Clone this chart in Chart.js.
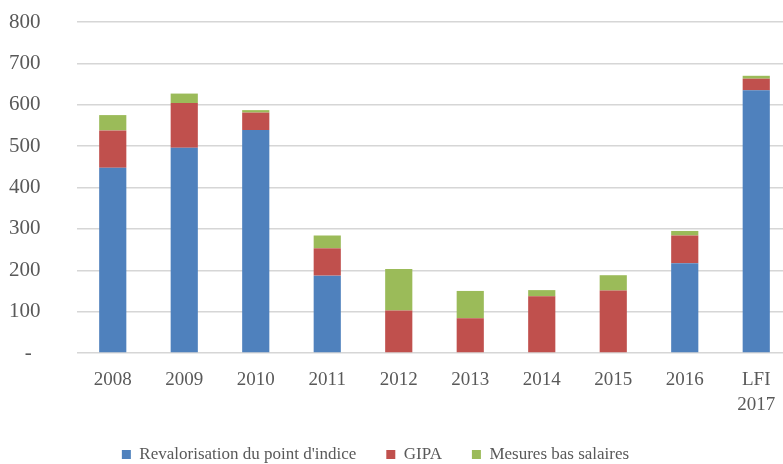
<!DOCTYPE html>
<html>
<head>
<meta charset="utf-8">
<script src="https://cdn.jsdelivr.net/npm/chart.js@4.4.1/dist/chart.umd.min.js"></script>
<style>
html,body{margin:0;padding:0;background:#fff;overflow:hidden;}
#wrap{position:relative;width:792px;height:464px;}
</style>
</head>
<body>
<div id="wrap"><canvas id="c" width="792" height="464"></canvas></div>
<script>
const categories = ['2008','2009','2010','2011','2012','2013','2014','2015','2016',['LFI','2017']];
const seriesNames = ["Revalorisation du point d'indice", 'GIPA', 'Mesures bas salaires'];
const revalorisation = [448, 496, 539, 187, 0, 0, 0, 0, 217, 635];
const gipa = [90, 108, 42, 66, 103, 84, 137, 151, 67, 28];
const basSalaires = [37, 23, 6, 31, 100, 66, 15, 37, 11, 7];
const yTicks = [0, 100, 200, 300, 400, 500, 600, 700, 800];

const FONT = "'Liberation Serif', 'DejaVu Serif', serif";
const TXT = '#595959';

const legendShift = {
  id: 'legendShift',
  afterLayout(chart) {
    const lg = chart.legend;
    if (lg) { lg.left -= 25; lg.right -= 25; }
  }
};

new Chart(document.getElementById('c'), {
  type: 'bar',
  data: {
    labels: categories,
    datasets: [
      {label: seriesNames[0], data: revalorisation, backgroundColor: '#4F81BD'},
      {label: seriesNames[1], data: gipa, backgroundColor: '#C0504D'},
      {label: seriesNames[2], data: basSalaires, backgroundColor: '#9BBB59'}
    ]
  },
  plugins: [legendShift],
  options: {
    responsive: false,
    animation: false,
    events: [],
    layout: {padding: {top: 22, left: 9, right: 0, bottom: 0}},
    datasets: {bar: {categoryPercentage: 1, barPercentage: 0.38, borderWidth: 0}},
    scales: {
      x: {
        stacked: true,
        grid: {display: false, drawTicks: false},
        border: {display: false},
        ticks: {color: TXT, font: {family: FONT, size: 19, lineHeight: 1.3}, padding: 15, maxRotation: 0, autoSkip: false},
        afterFit(scale) { scale.height = 63; }
      },
      y: {
        stacked: true,
        min: 0, max: 800,
        afterBuildTicks(scale) { scale.ticks = yTicks.map(v => ({value: v})); },
        grid: {color: '#d6d6d6', lineWidth: 1.5, drawTicks: false},
        border: {display: false},
        ticks: {
          color: TXT, font: {family: FONT, size: 21}, padding: 0, crossAlign: 'far',
          callback: v => v === 0 ? '   -' : String(v)
        },
        afterFit(scale) { scale.width = 68; }
      }
    },
    plugins: {
      tooltip: {enabled: false},
      legend: {
        position: 'bottom',
        maxHeight: 48,
        labels: {
          color: TXT, font: {family: FONT, size: 17},
          boxWidth: 9, boxHeight: 9, padding: 30
        }
      }
    }
  }
});
</script>
</body>
</html>
